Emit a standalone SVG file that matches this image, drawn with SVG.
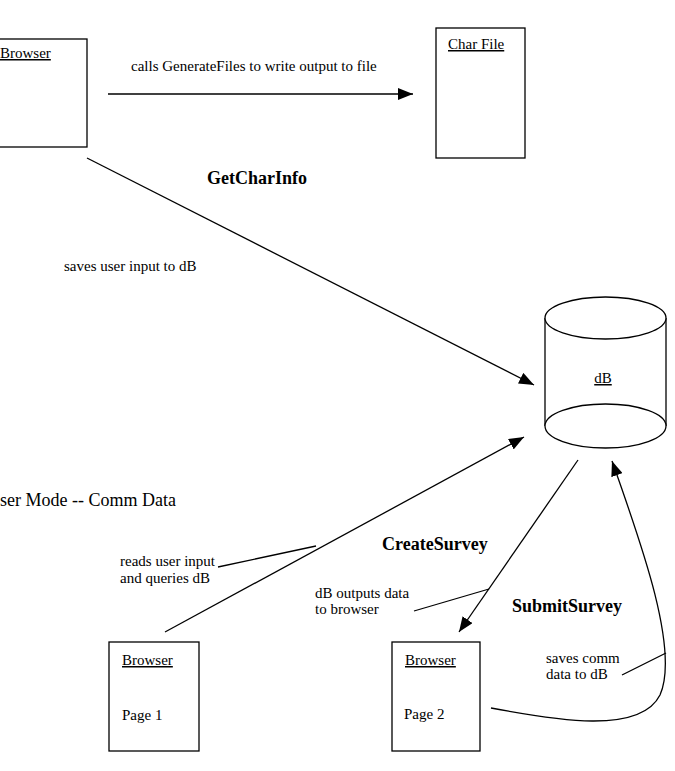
<svg xmlns="http://www.w3.org/2000/svg" width="675" height="771" viewBox="0 0 675 771">
  <style>
    .box { fill: #fff; stroke: #000; stroke-width: 1.3; }
    .ln { fill: none; stroke: #000; stroke-width: 1.3; }
    .t { font-family: "Liberation Serif", "Times New Roman", serif; font-size: 15px; fill: #000; }
    .u { text-decoration: underline; }
    .b { font-family: "Liberation Serif", "Times New Roman", serif; font-size: 18px; font-weight: bold; fill: #000; }
    .h { font-family: "Liberation Serif", "Times New Roman", serif; font-size: 18px; fill: #000; }
  </style>
  <defs>
    <marker id="arrow" markerUnits="userSpaceOnUse" markerWidth="16" markerHeight="12" refX="15" refY="6" orient="auto">
      <path d="M0,0 L15,6 L0,12 Z" fill="#000"/>
    </marker>
  </defs>

  <rect width="675" height="771" fill="#fff"/>

  <g id="browser-top">
    <rect class="box" x="-2" y="39" width="89" height="108"/>
    <text class="t u" x="0" y="58">Browser</text>
  </g>

  <g id="char-file">
    <rect class="box" x="436" y="28" width="89" height="130"/>
    <text class="t u" x="448" y="49">Char File</text>
  </g>

  <g id="db">
    <rect x="545" y="318" width="121" height="108" fill="#fff"/>
    <line class="ln" x1="545" y1="318" x2="545" y2="426"/>
    <line class="ln" x1="666" y1="318" x2="666" y2="426"/>
    <ellipse class="box" cx="605.5" cy="318" rx="60.5" ry="21"/>
    <ellipse class="box" cx="605.5" cy="426" rx="60.5" ry="22"/>
    <text class="t u" x="603" y="383" text-anchor="middle">dB</text>
  </g>

  <g id="browser-page1">
    <rect class="box" x="109" y="642" width="90" height="109"/>
    <text class="t u" x="122" y="665">Browser</text>
    <text class="t" x="122" y="720">Page 1</text>
  </g>

  <g id="browser-page2">
    <rect class="box" x="392" y="642" width="88" height="109"/>
    <text class="t u" x="405" y="665">Browser</text>
    <text class="t" x="404" y="719">Page 2</text>
  </g>

  <g id="connectors">
    <line class="ln" x1="108" y1="94" x2="413" y2="94" marker-end="url(#arrow)"/>
    <line class="ln" x1="87" y1="158" x2="534" y2="385" marker-end="url(#arrow)"/>
    <line class="ln" x1="165" y1="632" x2="524" y2="437" marker-end="url(#arrow)"/>
    <line class="ln" x1="578" y1="460" x2="459" y2="632" marker-end="url(#arrow)"/>
    <path class="ln" d="M491,708 C555,720 640,735 660,695 C680,650 640,540 612,461" marker-end="url(#arrow)"/>
    <!-- label leaders -->
    <line class="ln" x1="218" y1="567" x2="316" y2="546"/>
    <line class="ln" x1="414" y1="611" x2="489" y2="589"/>
    <line class="ln" x1="622" y1="675" x2="666" y2="653"/>
  </g>

  <g id="labels">
    <text class="t" x="131" y="71">calls GenerateFiles to write output to file</text>
    <text class="b" x="207" y="184">GetCharInfo</text>
    <text class="t" x="64" y="271">saves user input to dB</text>
    <text class="h" x="0" y="506">ser Mode -- Comm Data</text>
    <text class="t" x="120" y="566">reads user input</text>
    <text class="t" x="120" y="583">and queries dB</text>
    <text class="b" x="382" y="550">CreateSurvey</text>
    <text class="t" x="315" y="598">dB outputs data</text>
    <text class="t" x="315" y="614">to browser</text>
    <text class="b" x="512" y="612">SubmitSurvey</text>
    <text class="t" x="546" y="663">saves comm</text>
    <text class="t" x="546" y="679">data to dB</text>
  </g>
</svg>
